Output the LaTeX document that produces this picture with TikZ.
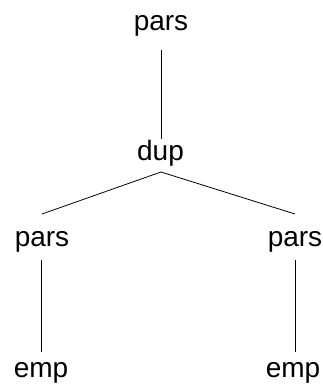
\documentclass[tikz,border=0pt]{standalone}
\usepackage{fontspec}
\setmainfont{Liberation Sans}
\begin{document}
\begin{tikzpicture}[x=1pt,y=1pt,
  lbl/.style={inner sep=0pt, anchor=base, font=\fontsize{28}{31}\selectfont},
  edge/.style={line width=0.8pt, black}]
\useasboundingbox (0,0) rectangle (323,388);
\node[lbl] (top) at (161,357) {pars};
\node[lbl] (dup) at (160.5,227) {dup};
\node[lbl] (lp) at (42,141) {pars};
\node[lbl] (rp) at (295,141) {pars};
\node[lbl] (le) at (41,10) {emp};
\node[lbl] (re) at (293,10) {emp};
\draw[edge] ([xshift=0.5pt,yshift=-19pt]top.base) -- ([xshift=1pt,yshift=22pt]dup.base);
\draw[edge] ([xshift=0.5pt,yshift=-11pt]dup.base) -- ([yshift=33pt]lp.base);
\draw[edge] ([xshift=0.5pt,yshift=-11pt]dup.base) -- ([yshift=33pt]rp.base);
\draw[edge] ([xshift=-1pt,yshift=-13pt]lp.base) -- ([yshift=26pt]le.base);
\draw[edge] ([xshift=0pt,yshift=-13pt]rp.base) -- ([xshift=2pt,yshift=26pt]re.base);
\end{tikzpicture}
\end{document}
